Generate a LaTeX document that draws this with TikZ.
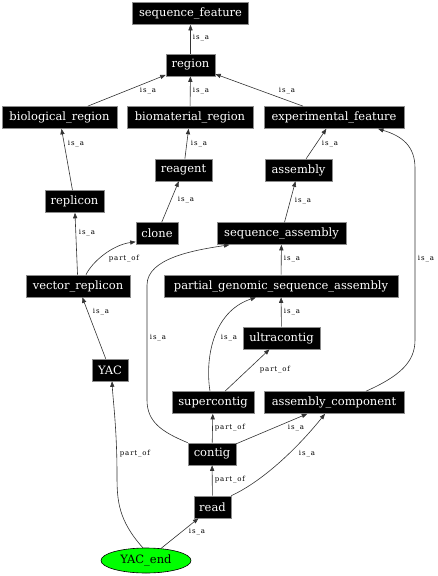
\documentclass[tikz,border=0pt]{standalone}
\usepackage{fontspec}
\setmainfont{DejaVu Serif}
\newfontfamily\lblfont[LetterSpace=12]{DejaVu Serif}
\usetikzlibrary{arrows.meta,shapes.geometric}
\tikzset{
  box/.style={rectangle, fill=black, draw=black!45, line width=0.6pt, text=white,
    minimum height=22pt, inner xsep=2pt, inner ysep=0pt, font=\fontsize{11.5}{12}\selectfont},
  endnode/.style={ellipse, fill=green, draw=black, line width=0.6pt, minimum width=90pt,
    minimum height=25pt, inner sep=0pt, font=\fontsize{11.5}{12}\selectfont},
  lbl/.style={inner sep=0pt, font=\lblfont\fontsize{7}{8}\selectfont},
  edge/.style={draw=black!80, line width=0.6pt, -{Triangle[length=5.5pt,width=4.2pt]}},
}
\begin{document}
\begin{tikzpicture}[x=1pt,y=-1pt]
\useasboundingbox (0,0) rectangle (438,576);
% nodes
\node[box, minimum width=116pt] (sf) at (190.5,13.5) {sequence\_feature};
\node[box, minimum width=49pt] (region) at (190.5,65) {region};
\node[box, minimum width=115pt] (bio) at (59.5,117.5) {biological\_region};
\node[box, minimum width=126pt] (biomat) at (190,117.5) {biomaterial\_region};
\node[box, minimum width=140pt] (exp) at (334,117.5) {experimental\_feature};
\node[box, minimum width=57pt] (reagent) at (183.5,170) {reagent};
\node[box, minimum width=67pt] (assembly) at (298.5,170) {assembly};
\node[box, minimum width=59pt] (replicon) at (74.5,201.5) {replicon};
\node[box, minimum width=42pt] (clone) at (157,233.5) {clone};
\node[box, minimum width=129pt] (seqasm) at (281.5,233.5) {sequence\_assembly};
\node[box, minimum width=104pt] (vecrep) at (78,286) {vector\_replicon};
\node[box, minimum width=234pt] (partial) at (281,286) {partial\_genomic\_sequence\_assembly};
\node[box, minimum width=77pt] (ultra) at (281.5,338) {ultracontig};
\node[box, minimum width=36pt] (yac) at (110,370) {YAC};
\node[box, minimum width=82pt] (super) at (213,402.5) {supercontig};
\node[box, minimum width=140pt] (asmcomp) at (334,402.5) {assembly\_component};
\node[box, minimum width=48pt] (contig) at (212,454) {contig};
\node[box, minimum width=37pt] (read) at (212.5,507) {read};
\node[endnode] (yacend) at (146,560.5) {YAC\_end};
% straight edges
\draw[edge] (region) -- (sf);
\draw[edge] (bio) -- (region);
\draw[edge] (biomat) -- (region);
\draw[edge] (exp) -- (region);
\draw[edge] (replicon) -- (bio);
\draw[edge] (reagent) -- (biomat);
\draw[edge] (assembly) -- (exp);
\draw[edge] (clone) -- (reagent);
\draw[edge] (seqasm) -- (assembly);
\draw[edge] (vecrep) -- (replicon);
\draw[edge] (partial) -- (seqasm);
\draw[edge] (ultra) -- (partial);
\draw[edge] (yac) -- (vecrep);
\draw[edge] (super) -- (ultra);
\draw[edge] (contig) -- (super);
\draw[edge] (contig) -- (asmcomp);
\draw[edge] (read) -- (contig);
\draw[edge] (yacend) -- (read);
% curved edges
\draw[edge] ([xshift=8pt]vecrep.north) .. controls (92,262) and (112,245) .. ([yshift=3pt]clone.south west);
\draw[edge] (contig.north west) .. controls (162,432) and (147,422) .. (147,400) -- (147,285) .. controls (147,258) and (195,250) .. ([xshift=-52pt]seqasm.south);
\draw[edge] ([xshift=-3pt]super.north) .. controls (205,360) and (212,312) .. ([xshift=-25pt]partial.south);
\draw[edge] ([xshift=32pt]asmcomp.north) .. controls (400,376) and (415,362) .. (415,340) -- (415,168) .. controls (415,146) and (402,136) .. ([xshift=44pt]exp.south);
\draw[edge] (read.north east) .. controls (265,480) and (300,445) .. ([xshift=-9pt]asmcomp.south);
\draw[edge] (yacend.104) .. controls (118,520) and (117,500) .. (117,475) .. controls (117,430) and (113,400) .. ([xshift=2pt]yac.south);
% labels
\node[lbl] (l1) at (201,38) {is\_a};
\node[lbl] (l2) at (148,91) {is\_a};
\node[lbl] (l3) at (201,91) {is\_a};
\node[lbl] (l4) at (287,91) {is\_a};
\node[lbl] (l5) at (76,144) {is\_a};
\node[lbl] (l6) at (199,144) {is\_a};
\node[lbl] (l7) at (330,144) {is\_a};
\node[lbl] (l8) at (186,200) {is\_a};
\node[lbl] (l9) at (303,201) {is\_a};
\node[lbl] (l10) at (87,233) {is\_a};
\node[lbl] (l11) at (124,259) {part\_of};
\node[lbl] (l12) at (292,259) {is\_a};
\node[lbl] (l13) at (426,259) {is\_a};
\node[lbl] (l14) at (101,312) {is\_a};
\node[lbl] (l15) at (292,312) {is\_a};
\node[lbl] (l16) at (158,338) {is\_a};
\node[lbl] (l17) at (229,338) {is\_a};
\node[lbl] (l18) at (275,370) {part\_of};
\node[lbl] (l19) at (230,428) {part\_of};
\node[lbl] (l20) at (296,428) {is\_a};
\node[lbl] (l21) at (135,454) {part\_of};
\node[lbl] (l22) at (307,454) {is\_a};
\node[lbl] (l23) at (230,480) {part\_of};
\node[lbl] (l24) at (197,532) {is\_a};
\end{tikzpicture}
\end{document}
